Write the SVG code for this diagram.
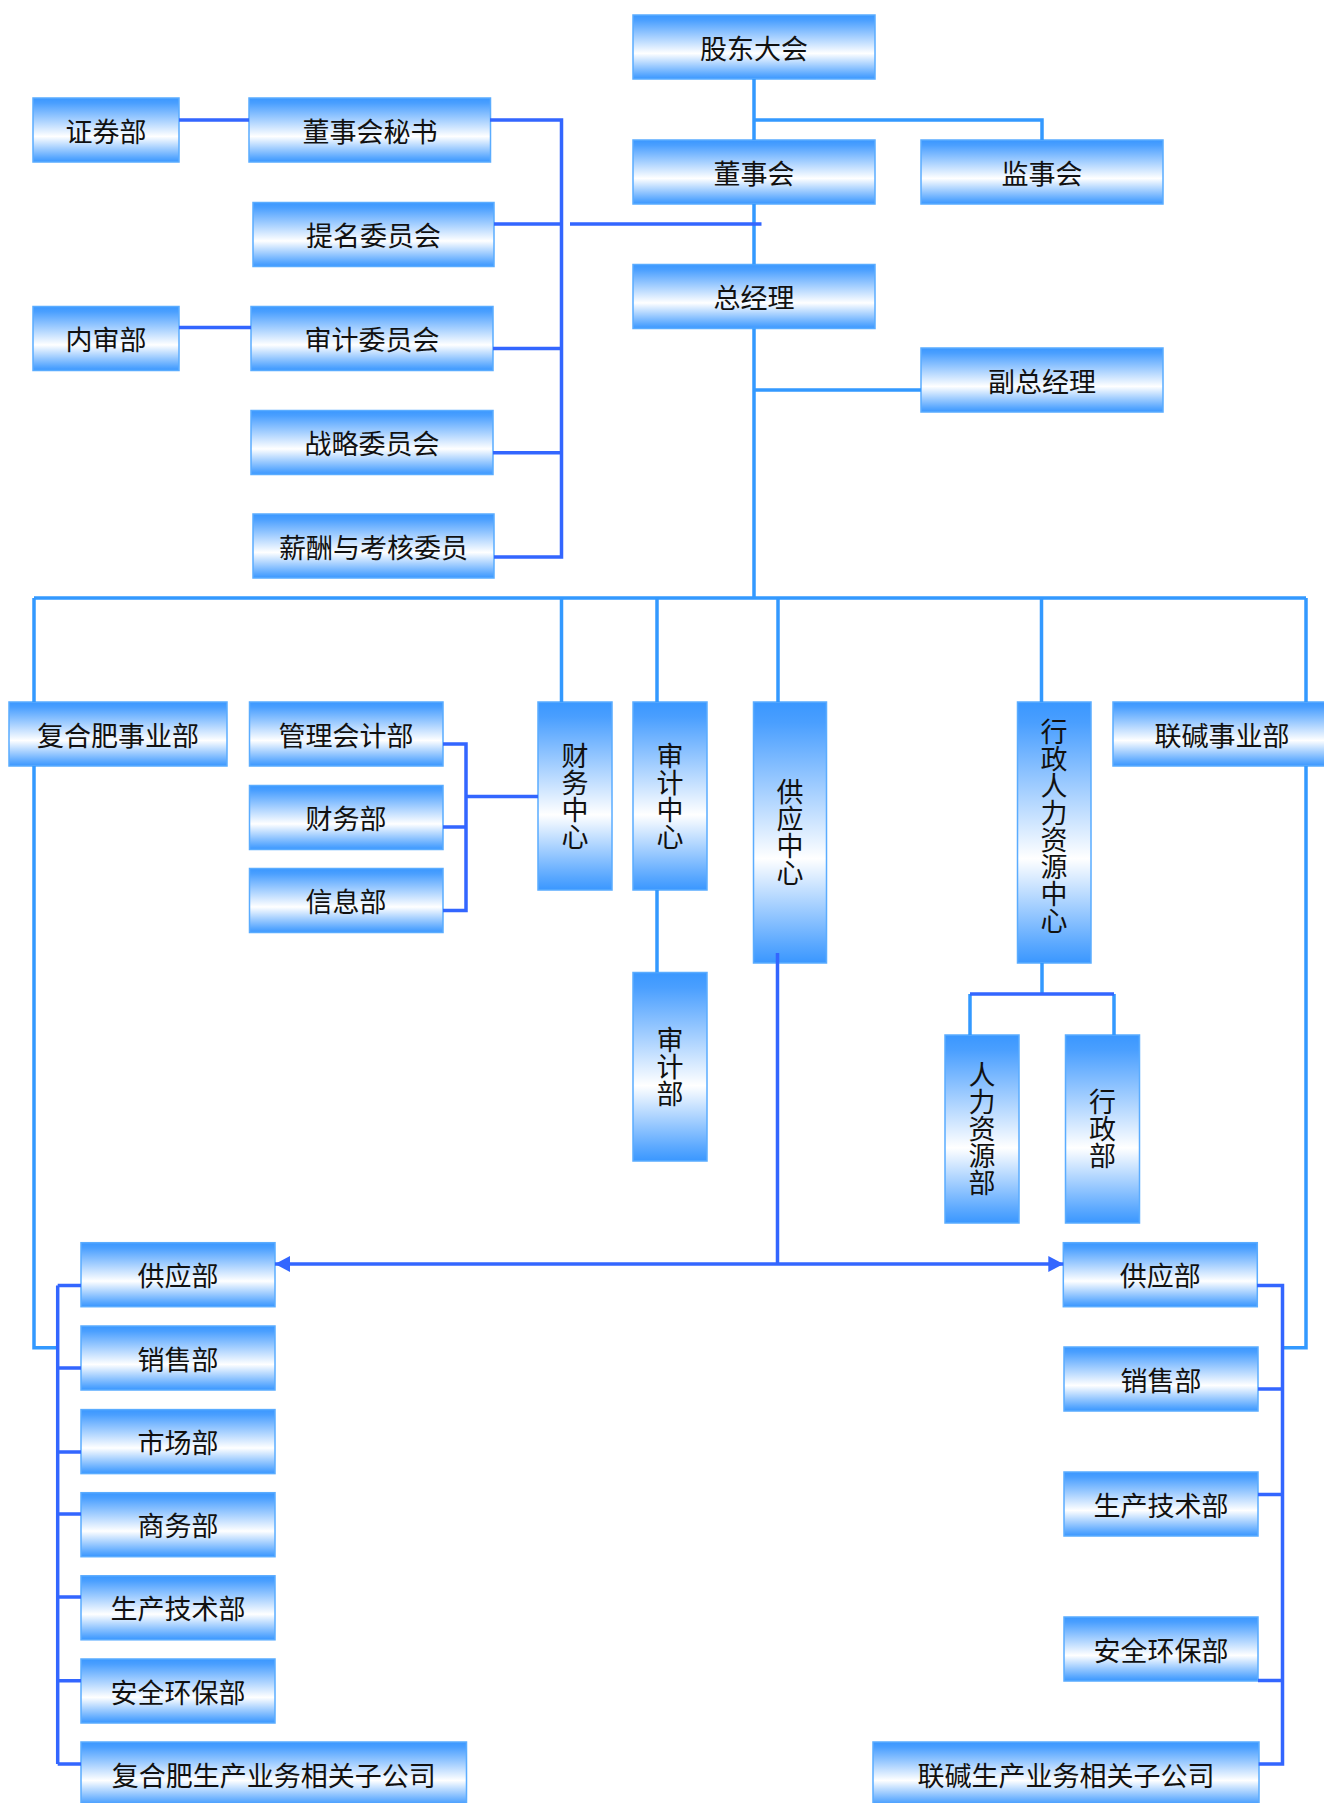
<svg xmlns="http://www.w3.org/2000/svg" width="1324" height="1803" viewBox="0 0 1324 1803">
<defs>
<linearGradient id="g" x1="0" y1="0" x2="0" y2="1">
<stop offset="0" stop-color="#3a97ff"/>
<stop offset="0.08" stop-color="#4a9fff"/>
<stop offset="0.6" stop-color="#ffffff"/>
<stop offset="0.93" stop-color="#5aa8ff"/>
<stop offset="1" stop-color="#3a97ff"/>
</linearGradient>
<marker id="arr" markerUnits="userSpaceOnUse" markerWidth="15" markerHeight="16" refX="15" refY="8" orient="auto-start-reverse" viewBox="0 0 15 16">
<path d="M0,0 L15,8 L0,16 z" fill="#3366ff"/>
</marker>
<style>
.box{fill:url(#g);stroke:#5aacff;stroke-width:1.5}
.t{font-family:"Noto Sans CJK SC","Noto Sans CJK JP",sans-serif;font-size:27px;fill:#111;text-anchor:middle;dominant-baseline:central}
.v{font-family:"Noto Sans CJK SC","Noto Sans CJK JP",sans-serif;font-size:27px;fill:#111;text-anchor:middle;writing-mode:vertical-rl}
.lt{fill:none;stroke:#3399ff;stroke-width:3.5}
.dk{fill:none;stroke:#3366ff;stroke-width:3.5}
</style>
</defs>
<g id="n-gudong"><rect class="box" x="633" y="15" width="242" height="64"/><text class="t" x="754" y="47">股东大会</text></g>
<g id="n-dongshihui"><rect class="box" x="633" y="140" width="242" height="64"/><text class="t" x="754" y="172">董事会</text></g>
<g id="n-jianshihui"><rect class="box" x="921" y="140" width="242" height="64"/><text class="t" x="1042" y="172">监事会</text></g>
<g id="n-zongjingli"><rect class="box" x="633" y="264.5" width="242" height="64"/><text class="t" x="754" y="296.5">总经理</text></g>
<g id="n-fuzong"><rect class="box" x="921" y="348" width="242" height="64"/><text class="t" x="1042" y="380">副总经理</text></g>
<g id="n-zhengquan"><rect class="box" x="33" y="98" width="146" height="64"/><text class="t" x="106" y="130">证券部</text></g>
<g id="n-mishu"><rect class="box" x="249" y="98" width="241.5" height="64"/><text class="t" x="370" y="130">董事会秘书</text></g>
<g id="n-timing"><rect class="box" x="253" y="202.5" width="241" height="64"/><text class="t" x="373.5" y="234.5">提名委员会</text></g>
<g id="n-neishen"><rect class="box" x="33" y="306.5" width="146" height="64"/><text class="t" x="106" y="338.5">内审部</text></g>
<g id="n-shenji-wy"><rect class="box" x="251" y="306.5" width="242" height="64"/><text class="t" x="372" y="338.5">审计委员会</text></g>
<g id="n-zhanlue"><rect class="box" x="251" y="410.5" width="242" height="64"/><text class="t" x="372" y="442.5">战略委员会</text></g>
<g id="n-xinchou"><rect class="box" x="253" y="514" width="241" height="64"/><text class="t" x="373.5" y="546">薪酬与考核委员</text></g>
<g id="n-fuhefei"><rect class="box" x="9" y="702" width="218" height="64"/><text class="t" x="118" y="734">复合肥事业部</text></g>
<g id="n-guanli"><rect class="box" x="249.5" y="702" width="193.5" height="64"/><text class="t" x="346" y="734">管理会计部</text></g>
<g id="n-caiwubu"><rect class="box" x="249.5" y="785.5" width="193.5" height="64"/><text class="t" x="346" y="817.5">财务部</text></g>
<g id="n-xinxi"><rect class="box" x="249.5" y="868.5" width="193.5" height="64"/><text class="t" x="346" y="900.5">信息部</text></g>
<g id="n-caiwuzx"><rect class="box" x="538" y="702" width="74" height="188"/><text class="v" x="575" y="796">财务中心</text></g>
<g id="n-shenjizx"><rect class="box" x="633" y="702" width="74" height="188"/><text class="v" x="670" y="796">审计中心</text></g>
<g id="n-shenjibu"><rect class="box" x="633" y="972.5" width="74" height="188.5"/><text class="v" x="670" y="1066.7">审计部</text></g>
<g id="n-gongyingzx"><rect class="box" x="753.5" y="702" width="73" height="261"/><text class="v" x="790" y="832.5">供应中心</text></g>
<g id="n-xingzhengzx"><rect class="box" x="1017.5" y="702" width="73.5" height="261"/><text class="v" x="1054" y="826">行政人力资源中心</text></g>
<g id="n-lianjian"><rect class="box" x="1113" y="702" width="218" height="64"/><text class="t" x="1222" y="734">联碱事业部</text></g>
<g id="n-renli"><rect class="box" x="945" y="1035" width="74" height="188"/><text class="v" x="982" y="1129">人力资源部</text></g>
<g id="n-xingzheng"><rect class="box" x="1065.5" y="1035" width="74" height="188"/><text class="v" x="1102.5" y="1129">行政部</text></g>
<g id="n-l-gongying"><rect class="box" x="81" y="1242.7" width="194" height="64"/><text class="t" x="178" y="1274.7">供应部</text></g>
<g id="n-l-xiaoshou"><rect class="box" x="81" y="1326" width="194" height="64"/><text class="t" x="178" y="1358">销售部</text></g>
<g id="n-l-shichang"><rect class="box" x="81" y="1409.6" width="194" height="64"/><text class="t" x="178" y="1441.6">市场部</text></g>
<g id="n-l-shangwu"><rect class="box" x="81" y="1492.7" width="194" height="64"/><text class="t" x="178" y="1524.7">商务部</text></g>
<g id="n-l-shengchan"><rect class="box" x="81" y="1575.8" width="194" height="64"/><text class="t" x="178" y="1607.8">生产技术部</text></g>
<g id="n-l-anquan"><rect class="box" x="81" y="1659" width="194" height="64"/><text class="t" x="178" y="1691">安全环保部</text></g>
<g id="n-l-zigongsi"><rect class="box" x="81" y="1742" width="385.5" height="64"/><text class="t" x="273.7" y="1774">复合肥生产业务相关子公司</text></g>
<g id="n-r-gongying"><rect class="box" x="1063.3" y="1242.7" width="194" height="64"/><text class="t" x="1160.3" y="1274.7">供应部</text></g>
<g id="n-r-xiaoshou"><rect class="box" x="1064" y="1347" width="194" height="64"/><text class="t" x="1161" y="1379">销售部</text></g>
<g id="n-r-shengchan"><rect class="box" x="1064" y="1472" width="194" height="64"/><text class="t" x="1161" y="1504">生产技术部</text></g>
<g id="n-r-anquan"><rect class="box" x="1064" y="1617" width="194" height="64"/><text class="t" x="1161" y="1649">安全环保部</text></g>
<g id="n-r-zigongsi"><rect class="box" x="873" y="1742" width="386" height="64"/><text class="t" x="1066" y="1774">联碱生产业务相关子公司</text></g>
<g id="connectors">
<path class="lt" d="M754 79V140M754 120H1042V140M754 204V264.5M754 328.5V598M754 390H921"/>
<path class="lt" d="M34 598H1306M34 598V702M34 766V1347.7H57.7M1306 598V702M1306 766V1347.7H1282.5"/>
<path class="lt" d="M561.5 598V702M657 598V702M657 890V972.5M778 598V702M1041.5 598V702M1042 963V994M970 994V1035M1114 994V1035"/>
<path class="dk" d="M179 120H249M490 120H561.5V557H494M494 224H561.5M493 348.6H561.5M493 452.7H561.5M570 224H761.5M179 327.6H251"/>
<path class="dk" d="M443 744H466V910.6H443M443 827H466M466 796.6H538M970 994H1114M777.5 953V1264"/>
<path class="dk" d="M275 1264H1063.3" marker-start="url(#arr)" marker-end="url(#arr)"/>
<path class="dk" d="M57.7 1285.4V1764M57.7 1285.4H81M57.7 1368H81M57.7 1452H81M57.7 1514H81M57.7 1597H81M57.7 1680.8H81M57.7 1764H81"/>
<path class="dk" d="M1257 1285.4H1282.5V1764H1258.7M1258 1389H1282.5M1258 1494.5H1282.5M1258 1680.6H1282.5"/>
</g>
</svg>
